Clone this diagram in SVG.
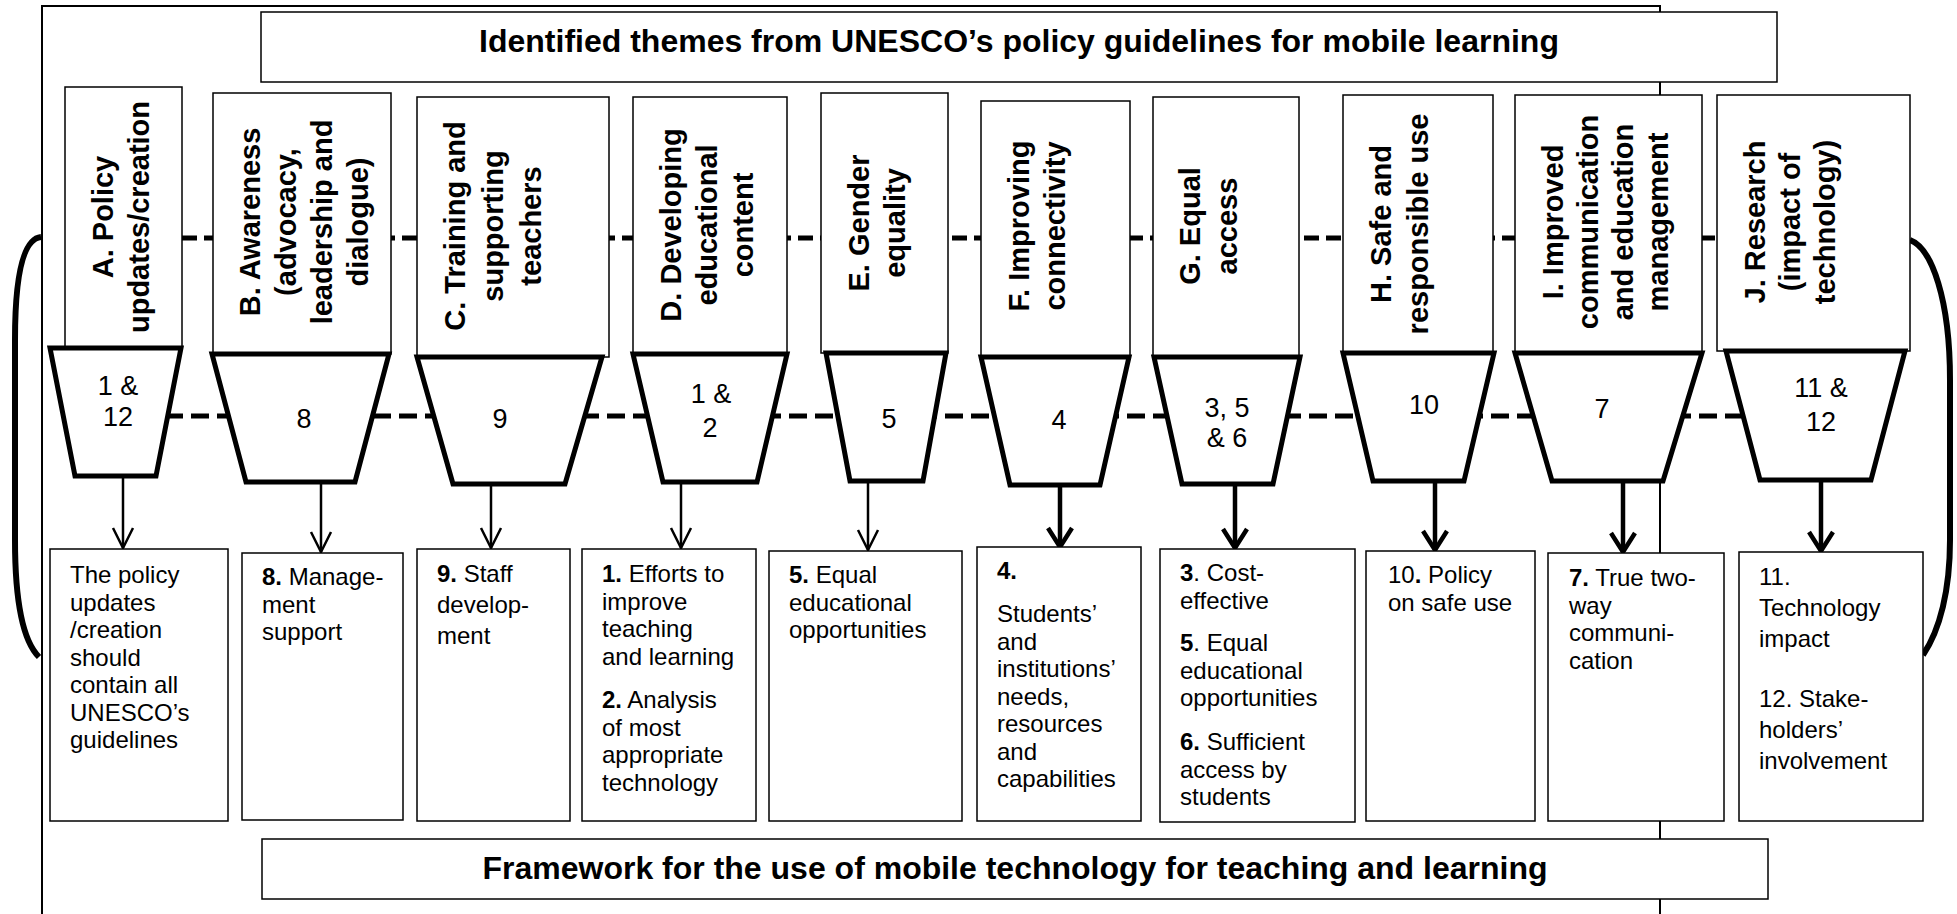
<svg xmlns="http://www.w3.org/2000/svg" width="1957" height="914" viewBox="0 0 1957 914">
<style>
.bg{fill:#fff}
.frame{fill:none;stroke:#000;stroke-width:2}
.box{fill:#fff;stroke:#000;stroke-width:1.5}
.trap{fill:#fff;stroke:#000;stroke-width:5;stroke-linejoin:miter}
.vt{font-family:"Liberation Sans",Arial,sans-serif;font-weight:bold;font-size:29px;text-anchor:middle;fill:#000}
.num{font-family:"Liberation Sans",Arial,sans-serif;font-size:27px;text-anchor:middle;fill:#000}
.body{font-family:"Liberation Sans",Arial,sans-serif;font-size:24px;fill:#000}
.title{font-family:"Liberation Sans",Arial,sans-serif;font-weight:bold;font-size:32px;text-anchor:middle;fill:#000}
.b{font-weight:bold}
.dash1{fill:none;stroke:#000;stroke-width:5;stroke-dasharray:15 7}
.dash2{fill:none;stroke:#000;stroke-width:5;stroke-dasharray:18 8}
.arc{fill:none;stroke:#000;stroke-width:6}
.thin{stroke:#000;stroke-width:2.5;marker-end:url(#ahThin)}
.thick{stroke:#000;stroke-width:4.5;marker-end:url(#ahThick)}
</style>
<defs>
<marker id="ahThin" viewBox="-24 -14 28 28" refX="0" refY="0" markerWidth="28" markerHeight="28" markerUnits="userSpaceOnUse" orient="auto"><path d="M-20,-10 L0,0 L-20,10" fill="none" stroke="#000" stroke-width="2.5"/></marker>
<marker id="ahThick" viewBox="-24 -16 28 32" refX="0" refY="0" markerWidth="28" markerHeight="32" markerUnits="userSpaceOnUse" orient="auto"><path d="M-19,-12 L0,0 L-19,12" fill="none" stroke="#000" stroke-width="4.5"/></marker>
</defs>
<rect class="bg" x="0" y="0" width="1957" height="914"/>
<rect class="frame" x="42" y="6" width="1618" height="930"/>

<g id="connectors">
<line class="dash1" x1="182" y1="238" x2="1717" y2="238"/>
<line class="dash2" x1="165" y1="416" x2="1745" y2="416"/>
<path class="arc" d="M41,237 C22,239 15,280 15,340 L15,540 C15,600 22,640 39,657"/>
<path class="arc" d="M1910,240 C1932,248 1950,300 1950,380 L1950,540 C1950,590 1940,630 1923,655"/>
<line class="thin" x1="123" y1="476" x2="123" y2="548"/>
<line class="thin" x1="321" y1="482" x2="321" y2="552"/>
<line class="thin" x1="491" y1="479" x2="491" y2="548"/>
<line class="thin" x1="681" y1="477" x2="681" y2="548"/>
<line class="thin" x1="868" y1="481" x2="868" y2="550"/>
<line class="thick" x1="1060" y1="485" x2="1060" y2="547"/>
<line class="thick" x1="1235" y1="484" x2="1235" y2="548"/>
<line class="thick" x1="1435" y1="481" x2="1435" y2="550"/>
<line class="thick" x1="1623" y1="481" x2="1623" y2="552"/>
<line class="thick" x1="1821" y1="480" x2="1821" y2="551"/>
</g>

<g id="title-top">
<rect class="box" x="261" y="12" width="1516" height="70"/>
<text class="title" x="1019" y="52">Identified themes from UNESCO’s policy guidelines for mobile learning</text>
</g>

<g id="theme-A">
<rect class="box" x="65" y="87" width="117" height="261"/>
<text class="vt" transform="translate(113,217) rotate(-90)"><tspan x="0" y="0">A. Policy</tspan><tspan x="0" dy="36">updates/creation</tspan></text>
</g>
<g id="theme-B">
<rect class="box" x="213" y="93" width="178" height="261"/>
<text class="vt" transform="translate(260,222) rotate(-90)"><tspan x="0" y="0">B. Awareness</tspan><tspan x="0" dy="36">(advocacy,</tspan><tspan x="0" dy="36">leadership and</tspan><tspan x="0" dy="36">dialogue)</tspan></text>
</g>
<g id="theme-C">
<rect class="box" x="417" y="97" width="192" height="260"/>
<text class="vt" transform="translate(465,226) rotate(-90)"><tspan x="0" y="0">C. Training and</tspan><tspan x="0" dy="38">supporting</tspan><tspan x="0" dy="38">teachers</tspan></text>
</g>
<g id="theme-D">
<rect class="box" x="633" y="97" width="154" height="257"/>
<text class="vt" transform="translate(681,225) rotate(-90)"><tspan x="0" y="0">D. Developing</tspan><tspan x="0" dy="36">educational</tspan><tspan x="0" dy="36">content</tspan></text>
</g>
<g id="theme-E">
<rect class="box" x="821" y="93" width="127" height="260"/>
<text class="vt" transform="translate(869,223) rotate(-90)"><tspan x="0" y="0">E. Gender</tspan><tspan x="0" dy="36">equality</tspan></text>
</g>
<g id="theme-F">
<rect class="box" x="981" y="101" width="149" height="256"/>
<text class="vt" transform="translate(1029,226) rotate(-90)"><tspan x="0" y="0">F. Improving</tspan><tspan x="0" dy="36">connectivity</tspan></text>
</g>
<g id="theme-G">
<rect class="box" x="1153" y="97" width="146" height="260"/>
<text class="vt" transform="translate(1200,226) rotate(-90)"><tspan x="0" y="0">G. Equal</tspan><tspan x="0" dy="37">access</tspan></text>
</g>
<g id="theme-H">
<rect class="box" x="1343" y="95" width="150" height="258"/>
<text class="vt" transform="translate(1391,224) rotate(-90)"><tspan x="0" y="0">H. Safe and</tspan><tspan x="0" dy="37">responsible use</tspan></text>
</g>
<g id="theme-I">
<rect class="box" x="1515" y="95" width="187" height="258"/>
<text class="vt" transform="translate(1563,222) rotate(-90)"><tspan x="0" y="0">I. Improved</tspan><tspan x="0" dy="35">communication</tspan><tspan x="0" dy="35">and education</tspan><tspan x="0" dy="35">management</tspan></text>
</g>
<g id="theme-J">
<rect class="box" x="1717" y="95" width="193" height="256"/>
<text class="vt" transform="translate(1765,222) rotate(-90)"><tspan x="0" y="0">J. Research</tspan><tspan x="0" dy="35">(impact of</tspan><tspan x="0" dy="35">technology)</tspan></text>
</g>

<g id="trap-A"><polygon class="trap" points="50,348 181,348 156,476 75,476"/><text class="num" x="118" y="395">1 &amp;</text><text class="num" x="118" y="426">12</text></g>
<g id="trap-B"><polygon class="trap" points="212,354 389,354 355,482 246,482"/><text class="num" x="304" y="428">8</text></g>
<g id="trap-C"><polygon class="trap" points="417,357 602,357 565,484 453,484"/><text class="num" x="500" y="428">9</text></g>
<g id="trap-D"><polygon class="trap" points="633,354 787,354 757,482 663,482"/><text class="num" x="711" y="403">1 &amp;</text><text class="num" x="710" y="437">2</text></g>
<g id="trap-E"><polygon class="trap" points="826,353 946,353 923,481 850,481"/><text class="num" x="889" y="428">5</text></g>
<g id="trap-F"><polygon class="trap" points="981,357 1129,357 1100,485 1010,485"/><text class="num" x="1059" y="429">4</text></g>
<g id="trap-G"><polygon class="trap" points="1154,357 1300,357 1273,484 1182,484"/><text class="num" x="1227" y="417">3, 5</text><text class="num" x="1227" y="447">&amp; 6</text></g>
<g id="trap-H"><polygon class="trap" points="1343,353 1494,353 1464,481 1373,481"/><text class="num" x="1424" y="414">10</text></g>
<g id="trap-I"><polygon class="trap" points="1515,353 1702,353 1663,481 1552,481"/><text class="num" x="1602" y="418">7</text></g>
<g id="trap-J"><polygon class="trap" points="1726,351 1905,351 1871,480 1760,480"/><text class="num" x="1821" y="397">11 &amp;</text><text class="num" x="1821" y="431">12</text></g>

<g id="out-A">
<rect class="box" x="50" y="549" width="178" height="272"/>
<text class="body"><tspan x="70" y="583">The policy</tspan><tspan x="70" y="610.5">updates</tspan><tspan x="70" y="638">/creation</tspan><tspan x="70" y="665.5">should</tspan><tspan x="70" y="693">contain all</tspan><tspan x="70" y="720.5">UNESCO’s</tspan><tspan x="70" y="748">guidelines</tspan></text>
</g>
<g id="out-B">
<rect class="box" x="242" y="553" width="161" height="267"/>
<text class="body"><tspan x="262" y="585"><tspan class="b">8.</tspan> Manage-</tspan><tspan x="262" y="612.5">ment</tspan><tspan x="262" y="640">support</tspan></text>
</g>
<g id="out-C">
<rect class="box" x="417" y="549" width="153" height="272"/>
<text class="body"><tspan x="437" y="582"><tspan class="b">9.</tspan> Staff</tspan><tspan x="437" y="613">develop-</tspan><tspan x="437" y="644">ment</tspan></text>
</g>
<g id="out-D">
<rect class="box" x="582" y="549" width="174" height="272"/>
<text class="body"><tspan x="602" y="582"><tspan class="b">1.</tspan> Efforts to</tspan><tspan x="602" y="609.5">improve</tspan><tspan x="602" y="637">teaching</tspan><tspan x="602" y="664.5">and learning</tspan><tspan x="602" y="708"><tspan class="b">2.</tspan> Analysis</tspan><tspan x="602" y="735.5">of most</tspan><tspan x="602" y="763">appropriate</tspan><tspan x="602" y="790.5">technology</tspan></text>
</g>
<g id="out-E">
<rect class="box" x="769" y="551" width="193" height="270"/>
<text class="body"><tspan x="789" y="583"><tspan class="b">5.</tspan> Equal</tspan><tspan x="789" y="610.5">educational</tspan><tspan x="789" y="638">opportunities</tspan></text>
</g>
<g id="out-F">
<rect class="box" x="977" y="547" width="164" height="274"/>
<text class="body"><tspan x="997" y="579" class="b">4.</tspan><tspan x="997" y="622">Students’</tspan><tspan x="997" y="649.5">and</tspan><tspan x="997" y="677">institutions’</tspan><tspan x="997" y="704.5">needs,</tspan><tspan x="997" y="732">resources</tspan><tspan x="997" y="759.5">and</tspan><tspan x="997" y="787">capabilities</tspan></text>
</g>
<g id="out-G">
<rect class="box" x="1160" y="549" width="195" height="273"/>
<text class="body"><tspan x="1180" y="581"><tspan class="b">3</tspan>. Cost-</tspan><tspan x="1180" y="608.5">effective</tspan><tspan x="1180" y="651"><tspan class="b">5</tspan>. Equal</tspan><tspan x="1180" y="678.5">educational</tspan><tspan x="1180" y="706">opportunities</tspan><tspan x="1180" y="750"><tspan class="b">6.</tspan> Sufficient</tspan><tspan x="1180" y="777.5">access by</tspan><tspan x="1180" y="805">students</tspan></text>
</g>
<g id="out-H">
<rect class="box" x="1366" y="551" width="169" height="270"/>
<text class="body"><tspan x="1388" y="583">10<tspan class="b">.</tspan> Policy</tspan><tspan x="1388" y="611">on safe use</tspan></text>
</g>
<g id="out-I">
<rect class="box" x="1548" y="553" width="176" height="268"/>
<text class="body"><tspan x="1569" y="586"><tspan class="b">7.</tspan> True two-</tspan><tspan x="1569" y="613.5">way</tspan><tspan x="1569" y="641">communi-</tspan><tspan x="1569" y="668.5">cation</tspan></text>
</g>
<g id="out-J">
<rect class="box" x="1739" y="552" width="184" height="269"/>
<text class="body"><tspan x="1759" y="585">11.</tspan><tspan x="1759" y="616">Technology</tspan><tspan x="1759" y="647">impact</tspan><tspan x="1759" y="707">12. Stake-</tspan><tspan x="1759" y="738">holders’</tspan><tspan x="1759" y="769">involvement</tspan></text>
</g>

<g id="title-bottom">
<rect class="box" x="262" y="839" width="1506" height="60"/>
<text class="title" x="1015" y="879">Framework for the use of mobile technology for teaching and learning</text>
</g>
</svg>
